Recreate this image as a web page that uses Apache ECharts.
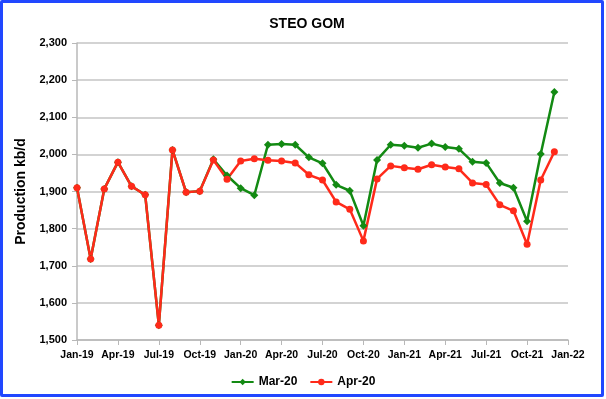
<!DOCTYPE html>
<html><head><meta charset="utf-8">
<script src="https://cdn.jsdelivr.net/npm/echarts@6/dist/echarts.min.js"></script>
<style>
html,body{margin:0;padding:0;background:#fff;}
#frame{position:absolute;left:0;top:0;width:598px;height:391px;border:3px solid #2147ff;border-radius:2px;background:#fff;}
#c{position:absolute;left:0;top:0;width:606px;height:399px;}
</style></head><body>
<div id="frame"></div>
<div id="c"></div>
<script>
const months = ['Jan-19','Feb-19','Mar-19','Apr-19','May-19','Jun-19','Jul-19','Aug-19','Sep-19','Oct-19','Nov-19','Dec-19',
'Jan-20','Feb-20','Mar-20','Apr-20','May-20','Jun-20','Jul-20','Aug-20','Sep-20','Oct-20','Nov-20','Dec-20',
'Jan-21','Feb-21','Mar-21','Apr-21','May-21','Jun-21','Jul-21','Aug-21','Sep-21','Oct-21','Nov-21','Dec-21','Jan-22'];
const mar20 = [1910,1718,1907,1979,1914,1891,1540,2012,1898,1901,1987,1943,
1909,1890,2026,2028,2026,1992,1976,1918,1902,1808,1985,2026,
2023,2018,2029,2020,2015,1980,1977,1923,1910,1820,2001,2168];
const apr20 = [1910,1718,1907,1979,1914,1891,1540,2012,1898,1901,1985,1933,
1982,1988,1984,1982,1977,1945,1931,1872,1852,1767,1934,1969,
1964,1960,1972,1966,1961,1923,1919,1864,1848,1758,1931,2007];
const chart = echarts.init(document.getElementById('c'));
const font = 'Liberation Sans, Arial, sans-serif';
chart.setOption({
  animation:false,
  backgroundColor:'transparent',
  title:{text:'STEO GOM',left:302,textAlign:'center',top:12,textStyle:{fontFamily:font,fontSize:14,fontWeight:'bold',color:'#000'}},
  grid:{left:77,right:38,top:43,bottom:59},
  legend:{top:371,left:'center',itemGap:12,itemWidth:22,itemHeight:8,
    textStyle:{fontFamily:font,fontSize:12,fontWeight:'bold',color:'#000'},
    data:['Mar-20','Apr-20']},
  xAxis:{type:'category',data:months,boundaryGap:false,
    axisLine:{lineStyle:{color:'#b8b8b8',width:1.5}},
    axisTick:{show:true,interval:2,length:5,lineStyle:{color:'#b8b8b8'}},
    axisLabel:{interval:2,fontFamily:font,fontSize:10.5,fontWeight:'bold',color:'#000',margin:10},
    splitLine:{show:false}},
  yAxis:{type:'value',min:1500,max:2300,interval:100,
    name:'Production kb/d',nameLocation:'middle',nameGap:46,
    nameTextStyle:{fontFamily:font,fontSize:14,fontWeight:'bold',color:'#000'},
    axisLine:{show:true,lineStyle:{color:'#b8b8b8',width:1.5}},
    axisTick:{show:true,length:5,lineStyle:{color:'#b8b8b8'}},
    axisLabel:{fontFamily:font,fontSize:11,fontWeight:'bold',color:'#000',margin:10,
      formatter:v=>v.toLocaleString('en-US')},
    splitLine:{lineStyle:{color:'#c4c4c4',width:1.5}}},
  series:[
    {name:'Mar-20',type:'line',data:mar20,symbol:'diamond',symbolSize:8,
     lineStyle:{color:'#138a13',width:2.5},itemStyle:{color:'#138a13'}},
    {name:'Apr-20',type:'line',data:apr20,symbol:'circle',symbolSize:7,
     lineStyle:{color:'#ff2a1a',width:2.5},itemStyle:{color:'#ff2a1a'}}
  ]
});
</script>
</body></html>
